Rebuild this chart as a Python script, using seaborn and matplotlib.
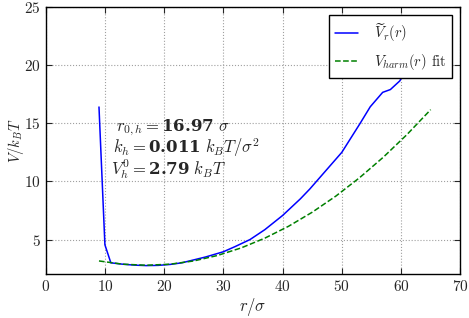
import matplotlib
matplotlib.use("Agg")
import matplotlib.pyplot as plt
import seaborn as sns
import pandas as pd

# values
r_data = [9, 10, 11, 13, 15, 17, 19, 21, 23, 25, 27, 30, 32, 34.5, 37, 40,
          43, 44.6, 47, 50, 53.1, 54.8, 56.9, 58.2, 59.8, 60.7, 62, 63.5]
v_data = [16.4, 4.55, 3.0, 2.88, 2.80, 2.76, 2.78, 2.86, 3.0, 3.25, 3.5, 3.95,
          4.4, 5.0, 5.85, 7.07, 8.5, 9.35, 10.75, 12.5, 15.0, 16.42, 17.66,
          17.9, 18.65, 19.57, 21.0, 22.8]

r_fit = [9, 13, 17, 21, 25, 29, 33, 37, 41, 45, 49, 53, 57, 61, 65]
v_fit = [3.16, 2.88, 2.79, 2.88, 3.16, 3.63, 4.28, 5.12, 6.14, 7.35, 8.74,
         10.32, 12.08, 14.03, 16.17]

x_ticks = [0, 10, 20, 30, 40, 50, 60, 70]
y_ticks = [5, 10, 15, 20, 25]

fit_lines = [r"$r_{0,h} = \mathbf{16.97}\ \sigma$",
             r"$k_h = \mathbf{0.011}\ k_BT/\sigma^2$",
             r"$V_h^0 = \mathbf{2.79}\ k_BT$"]
fit_line_x = [11.9, 11.3, 11.1]
fit_line_y = [14.37, 12.46, 10.6]

sns.set_style("ticks", {
    "axes.grid": True,
    "grid.linestyle": ":",
    "grid.color": "#a0a0a0",
    "axes.edgecolor": "black",
    "xtick.direction": "in",
    "ytick.direction": "in",
    "xtick.top": True,
    "ytick.right": True,
})
plt.rcParams["font.family"] = ["cmr10", "DejaVu Serif"]
plt.rcParams["mathtext.fontset"] = "cm"
# custom math fonts, used only for the fit text (bold numbers)
plt.rcParams["mathtext.rm"] = "cmr10"
plt.rcParams["mathtext.it"] = "cmmi10"
plt.rcParams["mathtext.bf"] = "DejaVu Serif:bold"
plt.rcParams["mathtext.fallback"] = "cm"
plt.rcParams["axes.formatter.use_mathtext"] = True
plt.rcParams["axes.unicode_minus"] = False

df_data = pd.DataFrame({"r": r_data, "V": v_data})
df_fit = pd.DataFrame({"r": r_fit, "V": v_fit})

fig = plt.figure(figsize=(4.69, 3.18), dpi=100)
ax = fig.add_axes([0.0974, 0.137, 0.884, 0.841])

sns.lineplot(data=df_data, x="r", y="V", color="#0000ff", linewidth=1.1,
             label=r"$\widetilde{V}_r(r)$", ax=ax)
sns.lineplot(data=df_fit, x="r", y="V", color="#008000", linewidth=1.1,
             linestyle="--", label=r"$V_{harm}(r)$ fit", ax=ax)

ax.set_xlim(0, 70)
ax.set_ylim(2, 25)
ax.set_xticks(x_ticks)
ax.set_yticks(y_ticks)
ax.tick_params(labelsize=11, length=4, width=0.8)
ax.set_xlabel(r"$r/\sigma$", fontsize=12)
ax.set_ylabel(r"$V/k_BT$", fontsize=10.5)
ax.xaxis.set_label_coords(0.5, -0.08)
ax.yaxis.set_label_coords(-0.048, 0.5)
for s in ax.spines.values():
    s.set_linewidth(1.0)

for txt, xx, yy in zip(fit_lines, fit_line_x, fit_line_y):
    t = ax.text(xx, yy, txt, fontsize=12, va="baseline", ha="left")
    t.get_fontproperties().set_math_fontfamily("custom")

leg = ax.legend(loc="upper right", fontsize=10.5, fancybox=False,
                framealpha=1, edgecolor="black", borderaxespad=0.55,
                handlelength=1.6, handletextpad=1.1, labelspacing=0.55)
leg.get_frame().set_linewidth(1.0)

fig.savefig("out.png", dpi=100)
